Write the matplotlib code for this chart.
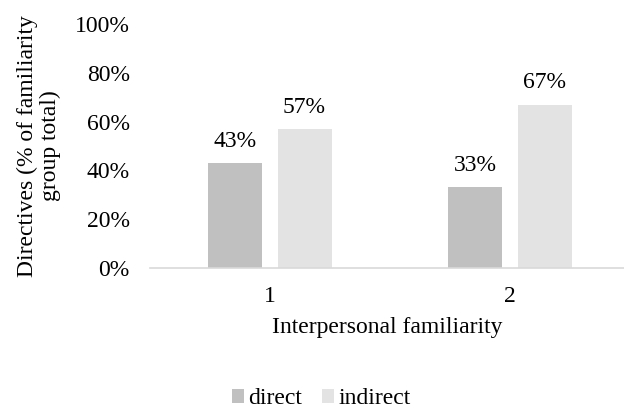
import matplotlib.pyplot as plt
import numpy as np

# Data
groups = ['1', '2']
direct = [43, 33]
indirect = [57, 67]
series_names = ['direct', 'indirect']

plt.rcParams['font.family'] = ['Liberation Serif', 'DejaVu Serif']

fig = plt.figure(figsize=(6.24, 4.12), dpi=100)
ax = fig.add_axes([150 / 624, 144 / 412, 474 / 624, 244 / 412])

x = np.arange(len(groups))
width = 0.225
offset = 0.144
b1 = ax.bar(x - offset, direct, width, color='#c0c0c0', label=series_names[0])
b2 = ax.bar(x + offset, indirect, width, color='#e3e3e3', label=series_names[1])

for bars in (b1, b2):
    for rect in bars:
        h = rect.get_height()
        ax.annotate(f'{h:.0f}%', (rect.get_x() + rect.get_width() / 2, h),
                    xytext=(0, 8), textcoords='offset points',
                    ha='center', va='bottom', fontsize=17)

ax.set_xlim(-0.5, -0.5 + 474 / 240)
ax.set_ylim(0, 100)
ax.set_xticks(x)
ax.set_xticklabels(groups)
ax.set_yticks(range(0, 101, 20))
ax.set_yticklabels([f'{v}%' for v in range(0, 101, 20)])
ax.tick_params(length=0, labelsize=17)
ax.tick_params(axis='y', pad=14.5)
ax.tick_params(axis='x', pad=13)

for s in ['top', 'right', 'left']:
    ax.spines[s].set_visible(False)
ax.spines['bottom'].set_color('#d9d9d9')
ax.spines['bottom'].set_linewidth(1.2)

ax.set_xlabel('Interpersonal familiarity', fontsize=17, labelpad=7)
ax.set_ylabel('Directives (% of familiarity\ngroup total)', fontsize=17,
              labelpad=10, linespacing=1.1)

fig.legend(handles=[b1, b2], loc='center', bbox_to_anchor=(321.5 / 624, 1 - 399 / 412),
           ncol=2, frameon=False, fontsize=17, handlelength=0.5, handleheight=0.5,
           handletextpad=0.2, columnspacing=0.85, borderpad=0)

fig.savefig('out.png', dpi=100)
